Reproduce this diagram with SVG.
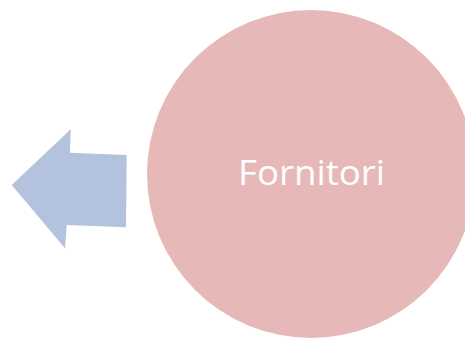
<svg xmlns="http://www.w3.org/2000/svg" width="465" height="338" viewBox="0 0 465 338">
<style>
.lbl{font-family:"Open Sans","Liberation Sans",sans-serif;font-size:35px;fill:#ffffff;text-anchor:middle}
</style>
<rect width="465" height="338" fill="#ffffff"/>
<g id="connectors">
<polygon points="11.7,185 70.7,129.3 70,152.7 126.7,155 126,227.3 66.7,225 65,248.3" fill="#b3c3dd"/>
</g>
<g id="fornitori">
<circle cx="311" cy="174" r="164" fill="#e6b8b7"/>
<text class="lbl" x="311.6" y="185" textLength="147" lengthAdjust="spacingAndGlyphs">Fornitori</text>
</g>
</svg>
